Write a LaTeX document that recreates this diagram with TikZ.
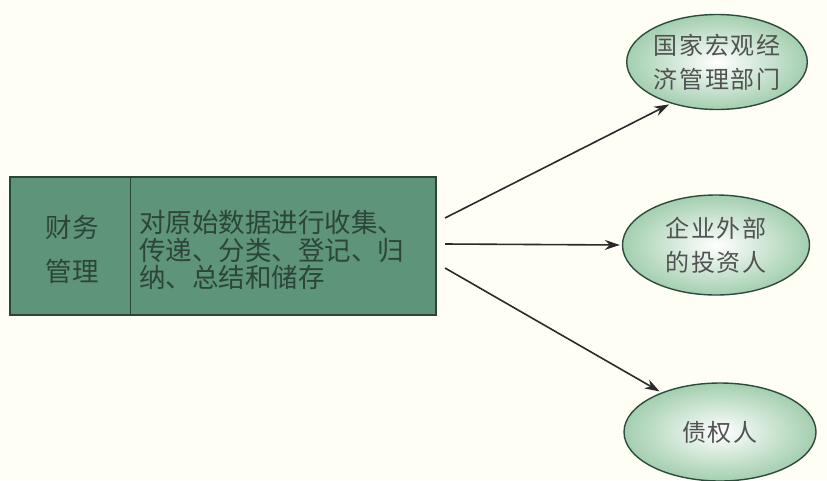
\documentclass[tikz,border=0pt]{standalone}
\usepackage{fontspec}
\setmainfont{Noto Sans CJK SC}
\newfontfamily\ellfont[LetterSpace=8]{Noto Sans CJK SC}
\usetikzlibrary{shapes.geometric,arrows.meta}
\definecolor{boxfill}{HTML}{5E9477}
\definecolor{boxtext}{HTML}{2B4538}
\definecolor{ellfill}{HTML}{A3CFAF}
\definecolor{ellline}{HTML}{2E4A3E}
\definecolor{arr}{HTML}{2A2A2A}
\tikzset{
  oval/.style={ellipse, draw=ellline, line width=1.4pt, inner color=white, outer color=ellfill,
     text=black!68, font=\ellfont\fontsize{24}{34}\selectfont, align=center, inner sep=0pt},
  link/.style={-{Stealth[length=15pt,width=10pt]}, draw=arr, line width=1.6pt, shorten >=2pt},
  boxlbl/.style={text=boxtext, font=\fontsize{26.5}{27.5}\selectfont, align=left, inner sep=0pt}
}
\begin{document}
\begin{tikzpicture}[x=1pt,y=-1pt]
\useasboundingbox (0,0) rectangle (827,480);
\fill[white!96!yellow] (0,0) rectangle (827,480);
% box
\node[draw=boxtext, line width=1.5pt, fill=boxfill, minimum width=426pt, minimum height=138pt, inner sep=0pt] (box) at (223,246) {};
\draw[boxtext, line width=1pt] (130,178) -- (130,315);
\node[boxlbl, align=center, font=\fontsize{26.5}{44}\selectfont] (left) at (72,249) {财务\\管理};
\node[boxlbl, anchor=west] (right) at (139,250) {对原始数据进行收集、\\传递、分类、登记、归\\纳、总结和储存};
% ellipses
\node[oval, minimum width=180pt, minimum height=95pt] (e1) at (717,62) {国家宏观经\\济管理部门};
\node[oval, minimum width=187pt, minimum height=100pt] (e2) at (716,245) {企业外部\\的投资人};
\node[oval, minimum width=192pt, minimum height=98pt] (e3) at (720,432) {债权人};
% arrows
\coordinate (s1) at (445,218);
\coordinate (s2) at (445,244);
\coordinate (s3) at (445,268);
\draw[link] (s1) -- (e1.222);
\draw[link] (s2) -- (e2.west);
\draw[link] (s3) -- (e3.146);
\end{tikzpicture}
\end{document}
